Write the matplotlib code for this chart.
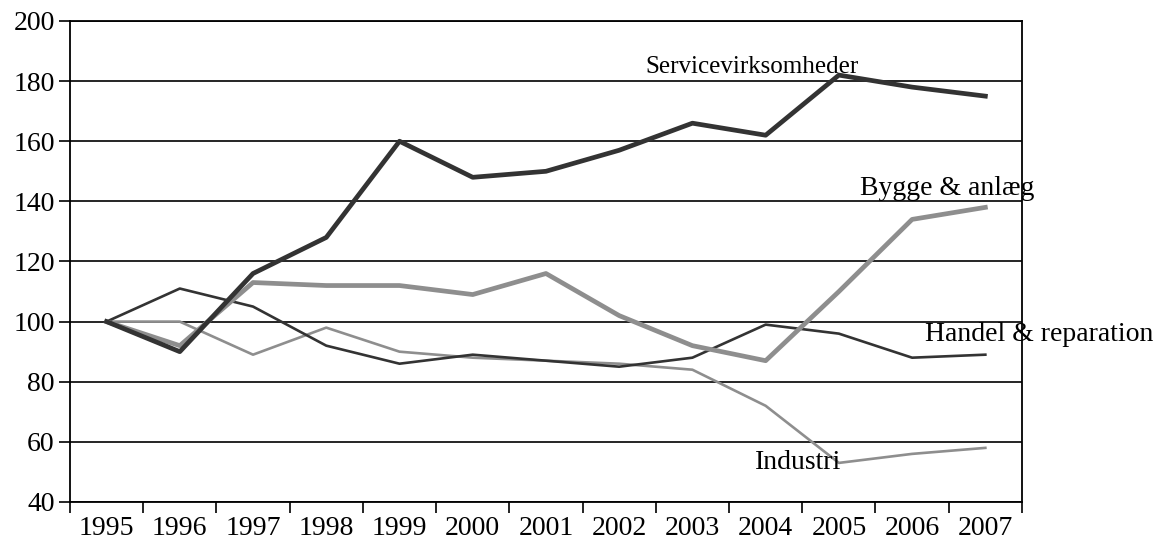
import matplotlib
matplotlib.use("Agg")
import matplotlib.pyplot as plt
import numpy as np

plt.rcParams['font.family'] = ['Liberation Serif', 'DejaVu Serif']

years = [1995, 1996, 1997, 1998, 1999, 2000, 2001, 2002, 2003, 2004, 2005, 2006, 2007]
service = [100, 90, 116, 128, 160, 148, 150, 157, 166, 162, 182, 178, 175]
bygge = [100, 92, 113, 112, 112, 109, 116, 102, 92, 87, 110, 134, 138]
handel = [100, 111, 105, 92, 86, 89, 87, 85, 88, 99, 96, 88, 89]
industri = [100, 100, 89, 98, 90, 88, 87, 86, 84, 72, 53, 56, 58]

x = np.arange(len(years))

fig = plt.figure(figsize=(11.6, 5.52), dpi=100)
ax = fig.add_axes([0.0603, 0.0906, 0.8207, 0.8714])

dark = '#333333'
grey = '#8e8e8e'
ax.plot(x, industri, color=grey, lw=1.9, zorder=3)
ax.plot(x, handel, color=dark, lw=1.9, zorder=4)
ax.plot(x, bygge, color=grey, lw=3.4, zorder=5)
ax.plot(x, service, color=dark, lw=3.4, zorder=6)

ax.set_ylim(40, 200)
ax.set_yticks(range(40, 201, 20))
ax.set_xlim(-0.5, len(years) - 0.5)
ax.set_xticks(x)
ax.set_xticklabels(years)
ax.set_xticks(np.arange(-0.5, len(years), 1), minor=True)
ax.tick_params(axis='x', which='major', length=0, pad=10, labelsize=20)
ax.tick_params(axis='x', which='minor', length=8, width=1.2, direction='out')
ax.tick_params(axis='y', length=8, width=1.2, labelsize=20, pad=3)

ax.grid(axis='y', color='black', lw=1.2)
ax.set_axisbelow(True)
for s in ax.spines.values():
    s.set_linewidth(1.3)

ax.text(7.36, 184.7, 'Servicevirksomheder', fontsize=18, ha='left', va='center')
ax.text(10.29, 144.4, 'Bygge & anlæg', fontsize=20, ha='left', va='center')
ax.text(11.18, 95.6, 'Handel & reparation', fontsize=20, ha='left', va='center', zorder=10)
ax.text(8.86, 53.3, 'Industri', fontsize=20, ha='left', va='center')

fig.savefig('out.png', dpi=100)
